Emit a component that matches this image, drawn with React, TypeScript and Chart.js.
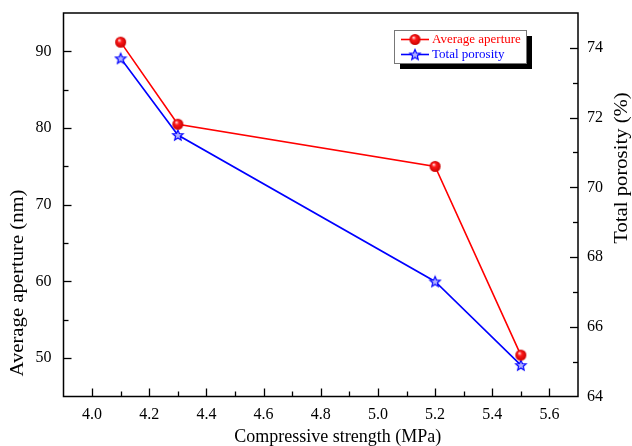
import React, { useEffect, useRef } from "react";
import { Chart, registerables } from "chart.js";

Chart.register(...registerables);

const strength = [4.1, 4.3, 5.2, 5.5];
const aperture = [91.2, 80.5, 75.0, 50.4];
const porosity = [73.7, 71.5, 67.3, 64.9];
const seriesNames = ["Average aperture", "Total porosity"];
const xTitle = "Compressive strength (MPa)";
const yLeftTitle = "Average aperture (nm)";
const yRightTitle = "Total porosity (%)";
const xRange = [3.9, 5.7];
const yLeftRange = [45, 95];
const yRightRange = [64, 75];
const xTickValues = [4.0, 4.2, 4.4, 4.6, 4.8, 5.0, 5.2, 5.4, 5.6];
const yLeftTickValues = [50, 60, 70, 80, 90];
const yRightTickValues = [64, 66, 68, 70, 72, 74];

const FONT = "'Liberation Serif', 'Times New Roman', Times, serif";
const RED = "#ff0000";
const BLUE = "#0000ff";

function makeSphere(r: number) {
  const c = document.createElement("canvas");
  const s = Math.ceil(r * 2 + 2);
  c.width = s;
  c.height = s;
  const ctx = c.getContext("2d")!;
  const g = ctx.createRadialGradient(s * 0.38, s * 0.34, 0.3, s / 2, s / 2, r);
  g.addColorStop(0, "#ffe0e0");
  g.addColorStop(0.35, "#ff1a1a");
  g.addColorStop(1, "#c80000");
  ctx.fillStyle = g;
  ctx.beginPath();
  ctx.arc(s / 2, s / 2, r, 0, Math.PI * 2);
  ctx.fill();
  return c;
}

function makeStar(r: number) {
  const c = document.createElement("canvas");
  const s = Math.ceil(r * 2 + 3);
  c.width = s;
  c.height = s;
  const ctx = c.getContext("2d")!;
  const cx = s / 2;
  const cy = s / 2 + 0.5;
  ctx.beginPath();
  for (let i = 0; i < 10; i++) {
    const rr = i % 2 === 0 ? r : r * 0.45;
    const a = -Math.PI / 2 + (i * Math.PI) / 5;
    const px = cx + rr * Math.cos(a);
    const py = cy + rr * Math.sin(a);
    if (i === 0) ctx.moveTo(px, py);
    else ctx.lineTo(px, py);
  }
  ctx.closePath();
  ctx.fillStyle = "#b0b0ff";
  ctx.fill();
  ctx.strokeStyle = BLUE;
  ctx.lineWidth = 1.2;
  ctx.stroke();
  return c;
}

export default function App() {
  const ref = useRef<HTMLCanvasElement | null>(null);

  useEffect(() => {
    const canvas = ref.current;
    if (!canvas) return;
    const sphere = makeSphere(5.5);
    const star = makeStar(5.5);

    const minorTicks = (scale: any, half: number) => {
      const out: number[] = [];
      const start = Math.ceil(scale.min / half - 1e-9);
      const end = Math.floor(scale.max / half + 1e-9);
      for (let k = start; k <= end; k++) {
        const v = k * half;
        if (Math.abs(v - scale.min) < 1e-9 || Math.abs(v - scale.max) < 1e-9) continue;
        out.push(v);
      }
      return out;
    };

    const framePlugin = {
      id: "originFrame",
      afterDraw(chart: any) {
        const { ctx, chartArea: a, scales } = chart;
        ctx.save();
        ctx.strokeStyle = "#000";
        ctx.lineWidth = 1.5;
        ctx.strokeRect(a.left, a.top, a.right - a.left, a.bottom - a.top);

        ctx.lineWidth = 1.3;
        const isMajor = (s: any, v: number) =>
          s.ticks.some((t: any) => Math.abs(t.value - v) < 1e-6);

        const xs = scales.x;
        minorTicks(xs, 0.1).forEach((v) => {
          const len = isMajor(xs, v) ? 8 : 5;
          const px = Math.round(xs.getPixelForValue(v)) + 0.5;
          ctx.beginPath();
          ctx.moveTo(px, a.bottom);
          ctx.lineTo(px, a.bottom - len);
          ctx.stroke();
        });
        const yl = scales.y;
        minorTicks(yl, 5).forEach((v) => {
          const len = isMajor(yl, v) ? 8 : 5;
          const py = Math.round(yl.getPixelForValue(v)) + 0.5;
          ctx.beginPath();
          ctx.moveTo(a.left, py);
          ctx.lineTo(a.left + len, py);
          ctx.stroke();
        });
        const yr = scales.y1;
        minorTicks(yr, 1).forEach((v) => {
          const len = isMajor(yr, v) ? 8 : 5;
          const py = Math.round(yr.getPixelForValue(v)) + 0.5;
          ctx.beginPath();
          ctx.moveTo(a.right, py);
          ctx.lineTo(a.right - len, py);
          ctx.stroke();
        });

        // titles
        ctx.fillStyle = "#000";
        ctx.font = `18px ${FONT}`;
        ctx.textAlign = "center";
        ctx.textBaseline = "middle";
        ctx.fillText(xTitle, (a.left + a.right) / 2 + 17, a.bottom + 41);

        ctx.save();
        ctx.translate(18, a.top + 270);
        ctx.scale(1, 1.15);
        ctx.rotate(-Math.PI / 2);
        ctx.fillText(yLeftTitle, 0, 0);
        ctx.restore();

        ctx.save();
        ctx.translate(a.right + 44, a.top + 155);
        ctx.scale(1, 1.15);
        ctx.rotate(-Math.PI / 2);
        ctx.fillText(yRightTitle, 0, 0);
        ctx.restore();

        // legend
        const bx = 394, by = 30, bw = 132, bh = 33;
        ctx.fillStyle = "#000";
        ctx.fillRect(bx + 6, by + 6, bw, bh);
        ctx.fillStyle = "#fff";
        ctx.fillRect(bx, by, bw, bh);
        ctx.strokeStyle = "#777";
        ctx.lineWidth = 1;
        ctx.strokeRect(bx + 0.5, by + 0.5, bw, bh);

        const rows = [
          { name: seriesNames[0], color: RED, img: sphere, y: by + 9.5 },
          { name: seriesNames[1], color: BLUE, img: star, y: by + 24.5 },
        ];
        ctx.font = `13px ${FONT}`;
        ctx.textAlign = "left";
        rows.forEach((r) => {
          ctx.strokeStyle = r.color;
          ctx.lineWidth = 1.6;
          ctx.beginPath();
          ctx.moveTo(bx + 7, r.y);
          ctx.lineTo(bx + 35, r.y);
          ctx.stroke();
          ctx.drawImage(r.img, bx + 21 - r.img.width / 2, r.y - r.img.height / 2);
          ctx.fillStyle = r.color;
          ctx.fillText(r.name, bx + 38, r.y + 0.5);
        });
        ctx.restore();
      },
    };

    const tickFont = { family: FONT, size: 16 };
    const setTicks = (vals: number[]) => (s: any) => {
      s.ticks = vals.map((value) => ({ value }));
    };
    const fitWidth = (w: number) => (s: any) => {
      s.width = w;
      s.paddingTop = 0;
      s.paddingBottom = 0;
    };

    const chart = new Chart(canvas, {
      type: "line",
      data: {
        datasets: [
          {
            label: seriesNames[0],
            data: strength.map((x, i) => ({ x, y: aperture[i] })),
            borderColor: RED,
            backgroundColor: RED,
            borderWidth: 1.6,
            pointStyle: sphere as any,
            pointRadius: 6,
            yAxisID: "y",
            tension: 0,
          },
          {
            label: seriesNames[1],
            data: strength.map((x, i) => ({ x, y: porosity[i] })),
            borderColor: BLUE,
            backgroundColor: BLUE,
            borderWidth: 1.6,
            pointStyle: star as any,
            pointRadius: 6,
            yAxisID: "y1",
            tension: 0,
          },
        ],
      },
      options: {
        animation: false,
        responsive: false,
        maintainAspectRatio: false,
        layout: { padding: { top: 13, left: 0, right: 0, bottom: 0 } },
        plugins: { legend: { display: false }, tooltip: { enabled: false } },
        scales: {
          x: {
            type: "linear",
            min: xRange[0],
            max: xRange[1],
            grid: { display: false, drawTicks: false },
            border: { display: false },
            afterBuildTicks: setTicks(xTickValues),
            ticks: {
              autoSkip: false,
              maxRotation: 0,
              padding: 9,
              color: "#000",
              font: tickFont,
              callback: (v: any) => Number(v).toFixed(1),
            },
            afterFit: (s: any) => {
              s.height = 49.5;
              s.paddingLeft = 0;
              s.paddingRight = 0;
            },
          },
          y: {
            type: "linear",
            position: "left",
            min: yLeftRange[0],
            max: yLeftRange[1],
            grid: { display: false, drawTicks: false },
            border: { display: false },
            afterBuildTicks: setTicks(yLeftTickValues),
            ticks: {
              autoSkip: false,
              padding: 12,
              color: "#000",
              font: tickFont,
            },
            afterFit: fitWidth(63.5),
          },
          y1: {
            type: "linear",
            position: "right",
            min: yRightRange[0],
            max: yRightRange[1],
            grid: { display: false, drawTicks: false },
            border: { display: false },
            afterBuildTicks: setTicks(yRightTickValues),
            ticks: {
              autoSkip: false,
              padding: 9,
              color: "#000",
              font: tickFont,
            },
            afterFit: fitWidth(54),
          },
        },
      },
      plugins: [framePlugin],
    });
    return () => chart.destroy();
  }, []);

  return (
    <div style={{ position: "absolute", left: 0, top: 0, width: 632, height: 446, background: "#fff" }}>
      <canvas ref={ref} width={632} height={446} style={{ display: "block", width: 632, height: 446 }} />
    </div>
  );
}
